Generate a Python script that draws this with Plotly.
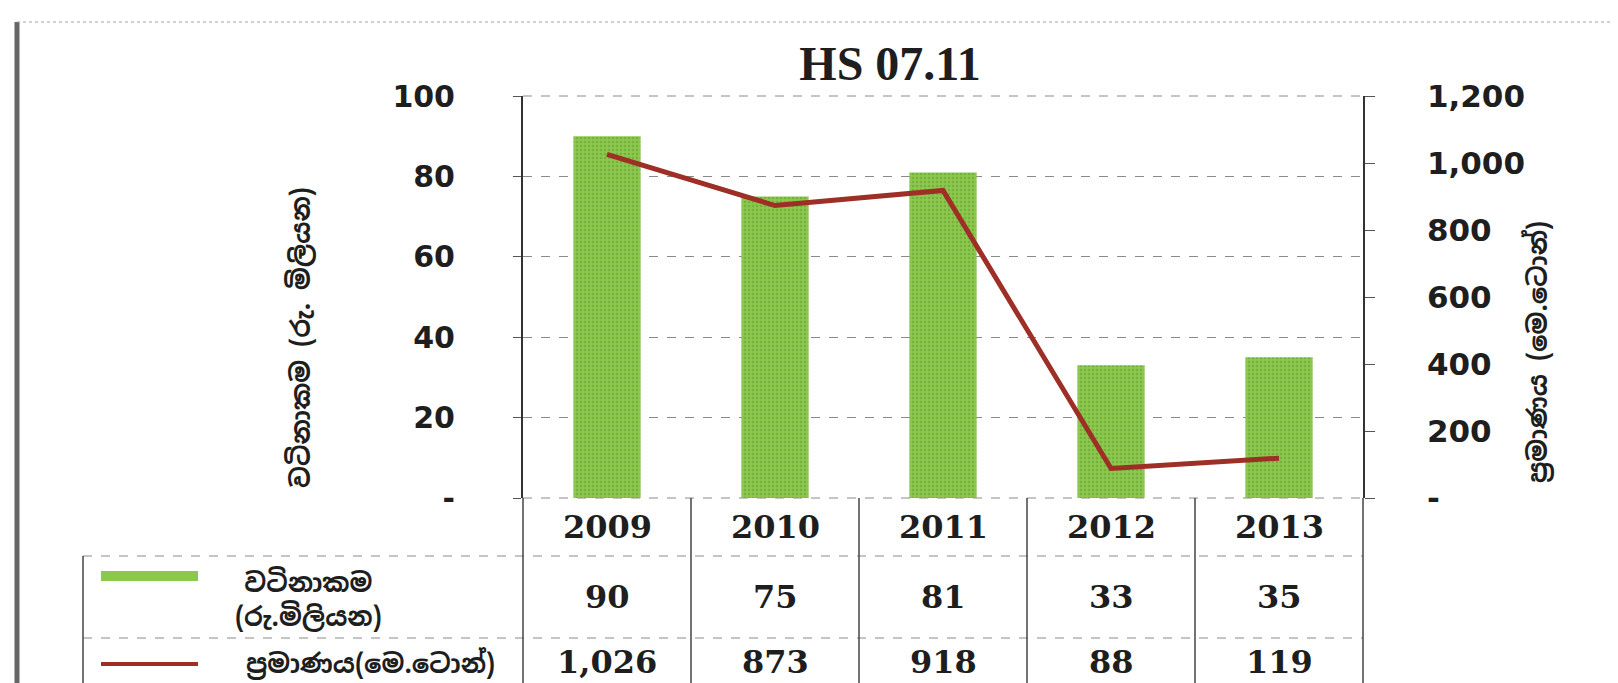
import plotly.graph_objects as go

# ---------------- Data ----------------
years = ["2009", "2010", "2011", "2012", "2013"]
value_rs_mn = [90, 75, 81, 33, 35]          # වටිනාකම (රු. මිලියන)
quantity_mt = [1026, 873, 918, 88, 119]     # ප්‍රමාණය (මෙ.ටොන්)

left_tickvals = [0, 20, 40, 60, 80, 100]
left_ticktext = ["-", "20", "40", "60", "80", "100"]
right_tickvals = [0, 200, 400, 600, 800, 1000, 1200]
right_ticktext = ["-", "200", "400", "600", "800", "1,000", "1,200"]

title_text = "HS 07.11"
value_axis_title = "වටිනාකම (රු. මිලියන)"
qty_axis_title = "ප්‍රමාණය (මෙ.ටොන්)"
value_legend = "වටිනාකම<br>(රු.මිලියන)"
qty_legend = "ප්‍රමාණය(මෙ.ටොන්)"

BAR_GREEN = "#8CC84B"
LINE_RED = "#9E2F27"
GRID = "#8a8a8a"
INK = "#1e1e1e"

# ---------------- Geometry (pixels) ----------------
W, H = 1618, 683
PL, PR, PT, PB = 515, 1355, 88, 490      # plot area
TABLE_L = 75
ROW1_B, ROW2_B, ROW3_B = 548, 630, 678


def fx(p):
    return (p - PL) / (PR - PL)


def fy(p):
    return (PB - p) / (PB - PT)


fig = go.Figure()

fig.add_trace(go.Bar(
    x=years, y=value_rs_mn, name=value_axis_title,
    marker=dict(
        color=BAR_GREEN,
        line_width=0,
        pattern=dict(shape=".", fgcolor="#5E9A34", size=4, solidity=0.35),
    ),
    showlegend=False,
))
fig.add_trace(go.Scatter(
    x=years, y=quantity_mt, name=qty_axis_title, yaxis="y2",
    mode="lines", line=dict(color=LINE_RED, width=5),
    showlegend=False,
))

tick_font = dict(family="DejaVu Sans", size=30, color=INK, weight="bold")

fig.update_layout(
    width=W, height=H,
    margin=dict(l=PL, r=W - PR, t=PT, b=H - PB),
    paper_bgcolor="white", plot_bgcolor="white",
    bargap=0.6,
    title=dict(
        text=title_text, x=882 / W, xanchor="center",
        y=1 - 38 / H, yanchor="top", yref="container",
        font=dict(family="Liberation Serif", size=48, color=INK, weight="bold"),
    ),
    xaxis=dict(
        type="category", range=[-0.5, 4.5],
        showticklabels=False, showgrid=False, zeroline=False, showline=False,
    ),
    yaxis=dict(
        range=[0, 100], tickvals=left_tickvals, ticktext=left_ticktext,
        ticks="outside", ticklen=8, tickcolor="#555",
        showline=True, linecolor="#333", linewidth=2,
        showgrid=True, gridcolor=GRID, griddash="dash", gridwidth=1,
        zeroline=False, tickfont=tick_font, ticklabelstandoff=52,
    ),
    yaxis2=dict(
        overlaying="y", side="right", range=[0, 1200],
        tickvals=right_tickvals, ticktext=right_ticktext,
        ticks="outside", ticklen=10, tickcolor="#555",
        showline=True, linecolor="#333", linewidth=1.5,
        showgrid=False, zeroline=False,
        tickfont=dict(family="DejaVu Sans", size=31, color=INK, weight="bold"),
        ticklabelstandoff=46,
    ),
)

shapes = []
line_grey = dict(color=GRID, width=1, dash="dash")
line_dark = dict(color="#444", width=1.5)

# gridlines at the range edges (plotly skips them)
for yv in (0, 1):
    shapes.append(dict(type="line", xref="paper", yref="paper", layer="below",
                       x0=0, x1=1, y0=yv, y1=yv, line=line_grey))
# table horizontal rules
for yp in (ROW1_B, ROW2_B, ROW3_B):
    shapes.append(dict(type="line", xref="paper", yref="paper",
                       x0=fx(TABLE_L), x1=fx(PR), y0=fy(yp), y1=fy(yp), line=line_grey))
# table vertical rules
shapes.append(dict(type="line", xref="paper", yref="paper",
                   x0=fx(TABLE_L), x1=fx(TABLE_L), y0=fy(ROW1_B), y1=fy(ROW3_B), line=line_dark))
for xp in (0, 1):
    shapes.append(dict(type="line", xref="paper", yref="paper",
                       x0=xp, x1=xp, y0=0, y1=fy(ROW3_B), line=line_dark))
for i in range(len(years) - 1):
    shapes.append(dict(type="line", xref="x", yref="paper",
                       x0=i + 0.5, x1=i + 0.5, y0=0, y1=fy(ROW3_B), line=line_dark))

# legend keys inside the table
shapes.append(dict(type="rect", xref="paper", yref="paper",
                   x0=fx(93), x1=fx(190), y0=fy(563), y1=fy(573),
                   fillcolor=BAR_GREEN, line_width=0))
shapes.append(dict(type="line", xref="paper", yref="paper",
                   x0=fx(93), x1=fx(190), y0=fy(656), y1=fy(656),
                   line=dict(color=LINE_RED, width=4)))

# outer frame of the scanned chart
shapes.append(dict(type="line", xref="paper", yref="paper",
                   x0=fx(9), x1=fx(9), y0=fy(14), y1=fy(680), line=dict(color="#666", width=5)))
shapes.append(dict(type="line", xref="paper", yref="paper",
                   x0=fx(9), x1=fx(1614), y0=fy(14), y1=fy(14), line=dict(color="#9aa3ad", width=1, dash="dot")))
shapes.append(dict(type="line", xref="paper", yref="paper",
                   x0=fx(1614), x1=fx(1614), y0=fy(14), y1=fy(680), line=dict(color="#777", width=2)))
fig.update_layout(shapes=shapes)

# ---------------- Annotations ----------------
num_font = dict(family="DejaVu Serif", size=32, color=INK, weight="bold")
sin_font = dict(family="Noto Sans Sinhala, Noto Sans, DejaVu Sans", size=26, color=INK, weight="bold")

ann = []
for i, (yr, v, q) in enumerate(zip(years, value_rs_mn, quantity_mt)):
    # category index on the x axis (a "2009" string would be read as a number)
    for text, yp in ((yr, 519), (str(v), 589), (f"{q:,}", 654)):
        ann.append(dict(x=i, xref="x", y=fy(yp), yref="paper", text=text,
                        showarrow=False, font=num_font, xanchor="center", yanchor="middle"))

ann.append(dict(x=fx(300), y=fy(592), xref="paper", yref="paper", text=value_legend,
                showarrow=False, font=sin_font, xanchor="center", yanchor="middle"))
ann.append(dict(x=fx(362), y=fy(656), xref="paper", yref="paper", text=qty_legend,
                showarrow=False, font=sin_font, xanchor="center", yanchor="middle"))
ann.append(dict(x=fx(293), y=fy(330), xref="paper", yref="paper", text=value_axis_title,
                textangle=-90, showarrow=False, font=sin_font, xanchor="center", yanchor="middle"))
ann.append(dict(x=fx(1530), y=fy(344), xref="paper", yref="paper", text=qty_axis_title,
                textangle=-90, showarrow=False, font=sin_font, xanchor="center", yanchor="middle"))
fig.update_layout(annotations=ann)

fig.write_html("out.html")
